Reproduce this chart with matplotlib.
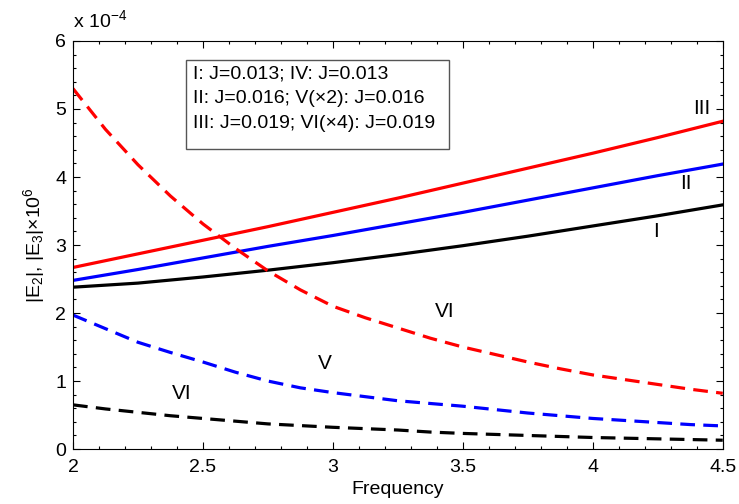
import matplotlib
matplotlib.use('Agg')
import matplotlib.pyplot as plt
import matplotlib.patches as patches
from matplotlib.ticker import MultipleLocator
import numpy as np

plt.rcParams['font.family'] = ['Liberation Sans', 'DejaVu Sans']
plt.rcParams['mathtext.fontset'] = 'custom'
plt.rcParams['mathtext.rm'] = 'Liberation Sans'
plt.rcParams['mathtext.it'] = 'Liberation Sans:italic'

# frequency samples (solid curves are almost straight, dashed ones bend more)
freq = [2.0, 2.25, 2.5, 2.75, 3.0, 3.25, 3.5, 3.75, 4.0, 4.25, 4.5]
freq_fine = [2.0, 2.125, 2.25, 2.375, 2.5, 2.625, 2.75, 2.875, 3.0, 3.125, 3.25,
             3.375, 3.5, 3.625, 3.75, 3.875, 4.0, 4.125, 4.25, 4.375, 4.5]

# values in units of 1e-4
curve_I = [2.38, 2.44, 2.53, 2.63, 2.74, 2.86, 2.99, 3.13, 3.28, 3.43, 3.59]
curve_II = [2.48, 2.64, 2.81, 2.98, 3.14, 3.31, 3.48, 3.66, 3.84, 4.02, 4.19]
curve_III = [2.67, 2.87, 3.07, 3.27, 3.48, 3.69, 3.91, 4.13, 4.35, 4.58, 4.82]
curve_VI_red = [5.30, 4.70, 4.18, 3.72, 3.31, 2.95, 2.62, 2.34, 2.10, 1.93, 1.78,
                1.63, 1.50, 1.39, 1.28, 1.18, 1.09, 1.02, 0.95, 0.88, 0.82]
curve_V = [1.97, 1.77, 1.57, 1.42, 1.28, 1.13, 1.00, 0.90, 0.83, 0.77, 0.71,
           0.67, 0.63, 0.58, 0.53, 0.49, 0.45, 0.42, 0.39, 0.36, 0.34]
curve_VI_black = [0.65, 0.59, 0.54, 0.49, 0.45, 0.41, 0.37, 0.345, 0.32, 0.30, 0.28,
                  0.25, 0.23, 0.215, 0.20, 0.185, 0.17, 0.16, 0.15, 0.14, 0.13]

x_ticks = [2, 2.5, 3, 3.5, 4, 4.5]
x_ticklabels = ['2', '2.5', '3', '3.5', '4', '4.5']
y_ticks = [0, 1, 2, 3, 4, 5, 6]

legend_lines = ['I: J=0.013; IV: J=0.013',
                'II: J=0.016; V(\u00d72): J=0.016',
                'III: J=0.019; VI(\u00d74): J=0.019']

fs = 14

fig = plt.figure(figsize=(7.39, 5.04), dpi=100)
ax = fig.add_axes([0.0988, 0.109, 0.8792, 0.8097])

lw = 2.3
dash = (4.6, 2.6)
scale = 1e-4
f = np.array(freq)
ff = np.array(freq_fine)
ax.plot(f, np.array(curve_I) * scale, color='black', lw=lw)
ax.plot(f, np.array(curve_II) * scale, color='#0000ff', lw=lw)
ax.plot(f, np.array(curve_III) * scale, color='#ff0000', lw=lw)
ax.plot(ff, np.array(curve_VI_red) * scale, color='#ff0000', lw=lw, dashes=dash)
ax.plot(ff, np.array(curve_V) * scale, color='#0000ff', lw=lw, dashes=dash)
ax.plot(ff, np.array(curve_VI_black) * scale, color='black', lw=lw, dashes=dash)

ax.set_xlim(2, 4.5)
ax.set_ylim(0, 6e-4)
ax.set_xticks(x_ticks)
ax.set_xticklabels(x_ticklabels)
ax.xaxis.set_minor_locator(MultipleLocator(0.1))
ax.set_yticks(np.array(y_ticks) * scale)
ax.set_yticklabels([str(v) for v in y_ticks])
ax.yaxis.set_minor_locator(MultipleLocator(0.2e-4))
ax.tick_params(which='both', direction='in', top=True, right=True,
               labelsize=fs, width=0.8)
ax.tick_params(which='major', length=5)
ax.tick_params(axis='x', which='major', pad=7)
ax.tick_params(axis='y', which='major', pad=5)
ax.tick_params(which='minor', length=2.5)
for s in ax.spines.values():
    s.set_linewidth(0.8)

ax.text(0.0, 1.025, 'x 10$^{-4}$', transform=ax.transAxes, fontsize=fs,
        ha='left', va='bottom')

ax.set_xlabel('Frequency', fontsize=fs, labelpad=4)
ax.set_ylabel('|E$_2$|, |E$_3$|\u00d710$^6$', fontsize=fs, labelpad=6)

# curve labels
lab_fs = 15
ax.text(4.418, 5.01e-4, 'III', fontsize=lab_fs, ha='center', va='center')
ax.text(4.36, 3.91e-4, 'II', fontsize=lab_fs, ha='center', va='center')
ax.text(4.245, 3.20e-4, 'I', fontsize=lab_fs, ha='center', va='center')
ax.text(3.43, 2.02e-4, 'VI', fontsize=lab_fs, ha='center', va='center')
ax.text(2.97, 1.26e-4, 'V', fontsize=lab_fs, ha='center', va='center')
ax.text(2.418, 0.82e-4, 'VI', fontsize=lab_fs, ha='center', va='center')

# legend-like text box
box = patches.Rectangle((0.1738, 0.7353), 0.4047, 0.2181, transform=ax.transAxes,
                        facecolor='white', edgecolor='#555555', linewidth=1.0,
                        zorder=5)
ax.add_patch(box)
for i, line in enumerate(legend_lines):
    ax.text(0.1846, 0.919 - i * 0.0605, line, transform=ax.transAxes,
            fontsize=14, ha='left', va='center', zorder=6)

fig.savefig('out.png', dpi=100)
